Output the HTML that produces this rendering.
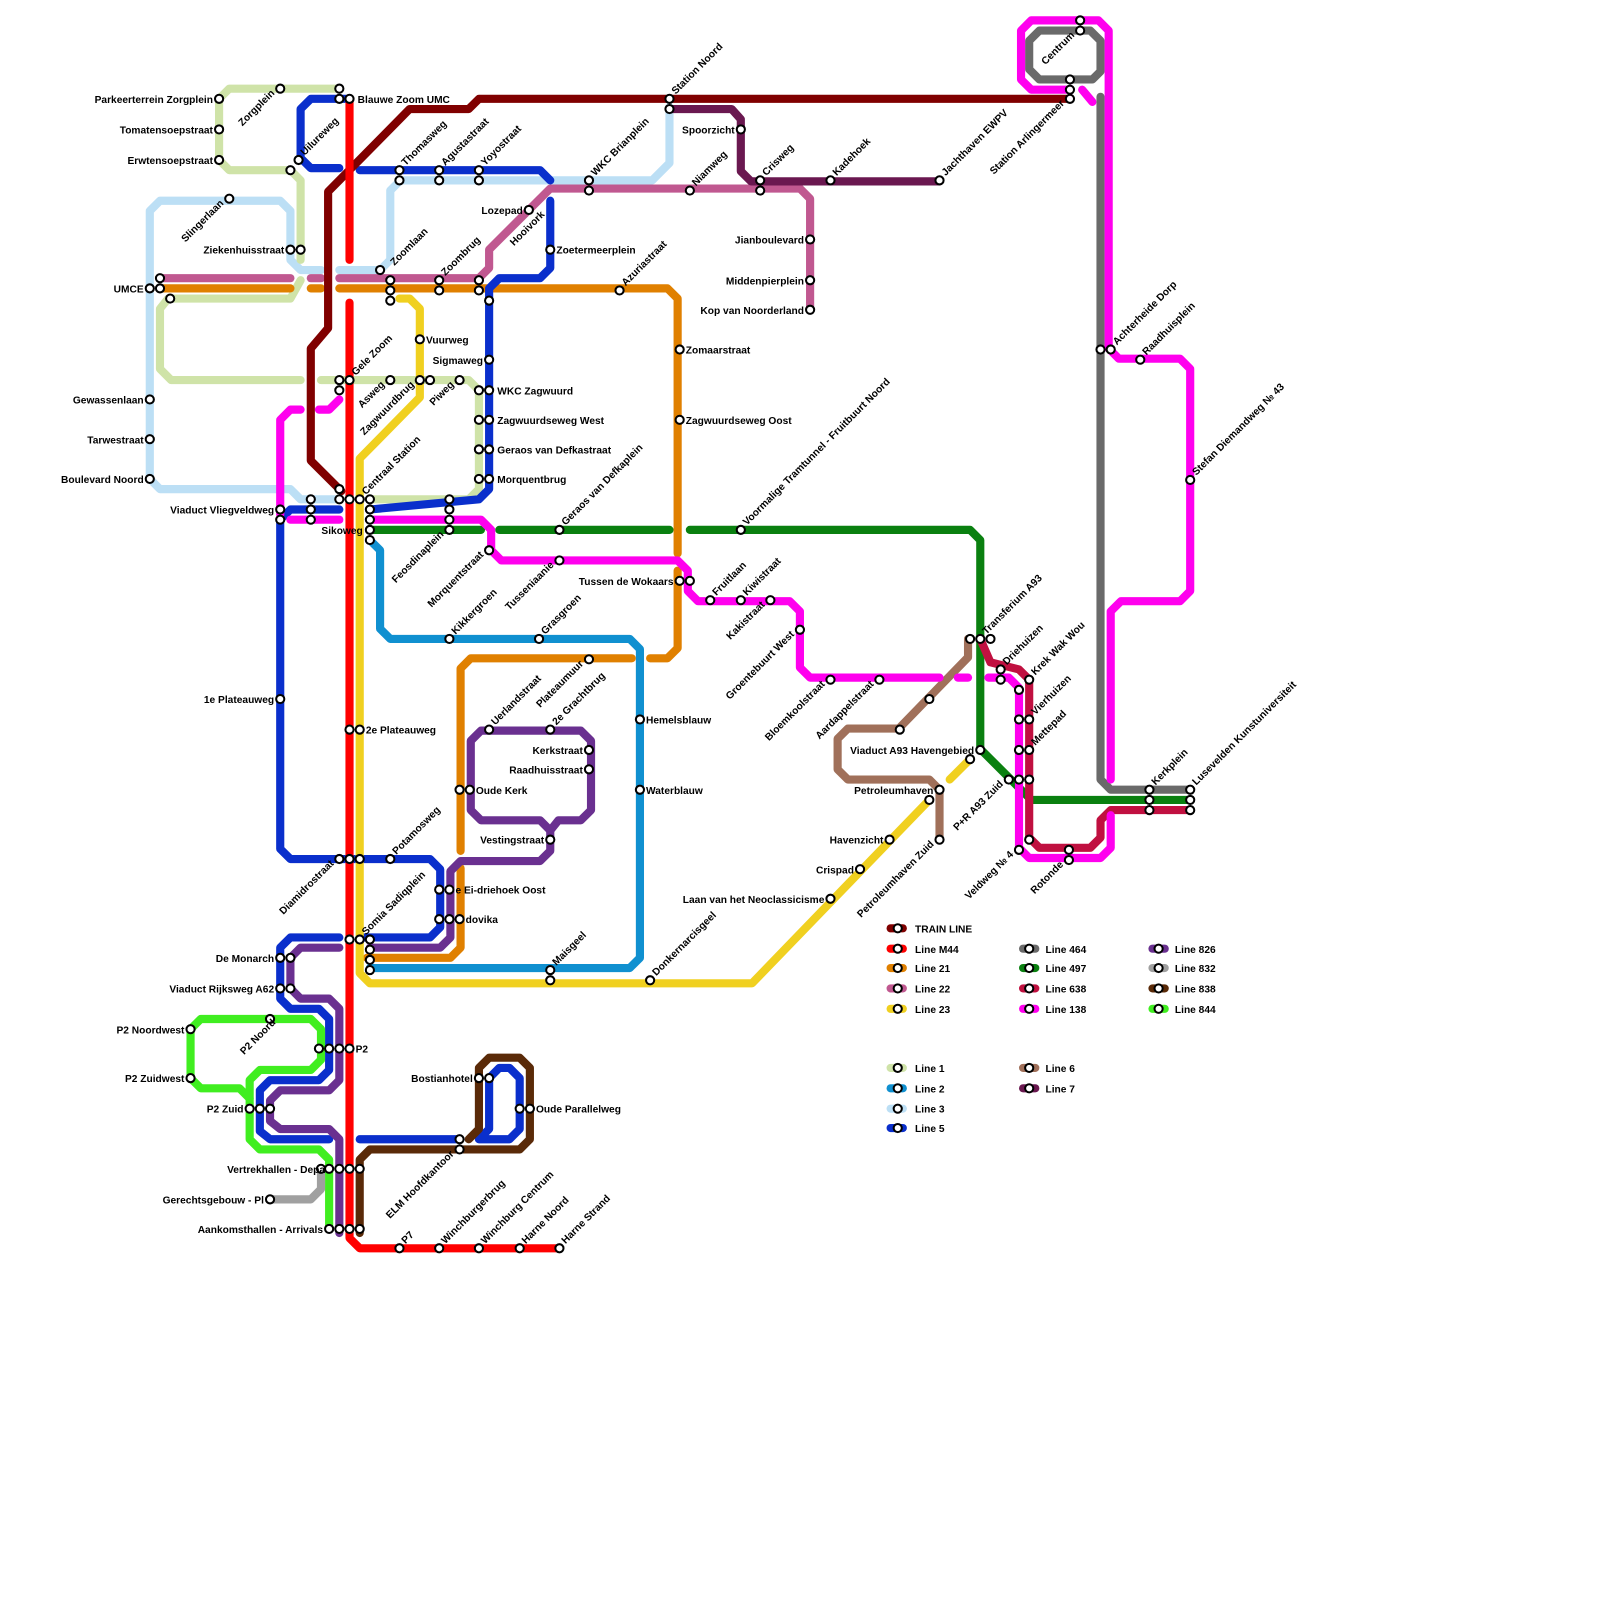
<!DOCTYPE html>
<html><head><meta charset="utf-8"><style>
html,body{margin:0;padding:0;background:#fff;width:1600px;height:1600px;overflow:hidden;}
svg{display:block;position:absolute;left:0;top:0}
text{font-family:"Liberation Sans",sans-serif;font-weight:bold;font-size:10px;fill:#000}
.l{fill:none;stroke-width:8;stroke-linejoin:round;stroke-linecap:round}
.s{fill:#fff;stroke:#000;stroke-width:2}
</style></head><body>
<svg width="1600" height="1600" viewBox="0 0 1600 1600" xmlns="http://www.w3.org/2000/svg">
<g transform="scale(1.019)">
<g class="l" stroke="#bcdff5">
<path d="M147,470 L147,207 L157,197 L275,197 L285,207 L285,255 L295,265 L315,265"/>
<path d="M333,265 L373,265 L383,255 L383,187 L393,177 L640,177 L657,160 L657,105"/>
<path d="M147,470 L157,480 L285,480 L295,490 L333,490"/>
</g>
<g class="l" stroke="#cfe3a8">
<path d="M333,87 L225,87 L215,97 L215,157 L225,167 L285,167 L295,177 L295,255"/>
<path d="M295,275 L285,293 L165,293 L157,303 L157,362 L168,373 L295,373"/>
<path d="M315,373 L460,373 L470,383 L470,480 L460,490 L363,490"/>
</g>
<path class="l" stroke="#1090d0" d="M363,530 L373,540 L373,617 L383,627 L618,627 L628,637 L628,940 L618,950 L363,950"/>
<g class="l" stroke="#e08000">
<path d="M157,283 L285,283"/><path d="M305,283 L315,283"/>
<path d="M333,283 L655,283 L665,293 L665,543"/>
<path d="M665,560 L665,636 L655,646 L638,646"/>
<path d="M620,646 L462,646 L452,656 L452,835"/>
<path d="M452,852 L452,930 L442,940 L360,940"/>
</g>
<g class="l" stroke="#c05890">
<path d="M157,273 L285,273"/><path d="M305,273 L315,273"/>
<path d="M333,273 L470,273 L480,263 L480,245 L540,185 L785,185 L795,195 L795,303"/>
</g>
<path class="l" stroke="#6a1850" d="M657,107 L718,107 L727,117 L727,168 L737,178 L922,178"/>
<g class="l" stroke="#0a2fcc">
<path d="M343,97 L305,97 L295,107 L295,155 L305,165 L333,165"/>
<path d="M353,167 L530,167 L540,177"/>
<path d="M540,197 L540,263 L530,273 L490,273 L480,283 L480,480 L470,490 L363,500"/>
<path d="M333,500 L285,500 L275,510 L275,833 L285,843 L422,843 L432,853 L432,910 L422,920 L353,920"/>
<path d="M333,920 L285,920 L275,930 L275,980 L285,990 L313,990 L323,1000 L323,1050 L313,1060 L265,1060 L255,1070 L255,1110 L265,1118 L323,1118"/>
<path d="M353,1118 L450,1118"/>
<path d="M470,1118 L480,1108 L480,1058 L490,1048 L500,1048 L510,1058 L510,1108 L500,1118 L470,1118"/>
</g>
<g class="l" stroke="#6a3090">
<path d="M462,775 L462,727 L472,717 L570,717 L580,727 L580,795 L570,805 L548,805 L540,815 L530,805 L472,805 L462,795 Z"/>
<path d="M540,815 L540,835 L530,845 L452,845 L442,855 L442,920 L432,930 L363,930"/>
<path d="M333,930 L295,930 L285,940 L285,970 L295,980 L323,980 L333,990 L333,1060 L323,1070 L275,1070 L265,1080 L265,1100 L275,1108 L323,1108 L333,1118 L333,1210"/>
</g>
<g class="l" stroke="#40ee20">
<path d="M187,1058 L187,1010 L197,1000 L305,1000 L315,1010 L315,1040 L305,1050 L255,1050 L245,1060 L245,1118 L255,1128 L313,1128 L323,1138 L323,1205"/>
<path d="M187,1058 L197,1068 L235,1068 L245,1078"/>
</g>
<path class="l" stroke="#a0a0a0" d="M265,1177 L305,1177 L315,1167 L315,1148"/>
<path class="l" stroke="#5a2a08" d="M353,1210 L353,1138 L363,1128 L510,1128 L520,1118 L520,1048 L510,1038 L480,1038 L470,1048 L470,1108 L460,1118"/>
<g class="l" stroke="#f0d020">
<path d="M392,293 L402,293 L412,303 L412,390 L353,450 L353,955 L363,965 L738,965 L912,785"/>
<path d="M932,765 L950,747"/>
</g>
<g class="l" stroke="#0a8010">
<path d="M363,520 L472,520"/><path d="M490,520 L657,520"/>
<path d="M677,520 L952,520 L962,530 L962,735 L1012,785 L1165,785"/>
</g>
<path class="l" stroke="#a0705a" d="M950,627 L950,645 L882,715 L832,715 L822,725 L822,755 L832,765 L912,765 L922,775 L922,822"/>
<g class="l" stroke="#6a6a6a">
<path d="M1080,95 L1080,765 L1090,775 L1165,775"/>
<path d="M1020,30 L1070,30 L1080,40 L1080,70 L1072,78 L1020,78 L1010,68 L1010,40 Z"/>
</g>
<path class="l" stroke="#c01040" d="M962,627 L972,650 L1000,657 L1010,667 L1010,822 L1020,832 L1070,832 L1080,822 L1080,805 L1090,795 L1165,795"/>
<g class="l" stroke="#ff00ee">
<path d="M275,505 L275,412 L285,402 L295,402"/>
<path d="M313,402 L323,402 L333,392"/>
<path d="M285,510 L333,510"/>
<path d="M363,510 L472,510 L482,520 L482,540 L492,550 L665,550 L675,560 L675,580 L685,590 L775,590 L785,600 L785,655 L795,665 L922,665"/>
<path d="M940,665 L950,665"/>
<path d="M970,665 L990,665 L1000,675 L1000,832 L1010,842 L1080,842 L1090,832 L1090,800"/>
<path d="M1090,765 L1090,600 L1100,590 L1158,590 L1168,580 L1168,362 L1158,352 L1098,352 L1088,342 L1088,30 L1078,20 L1012,20 L1002,30 L1002,78 L1012,88 L1050,88"/>
<path d="M1062,88 L1072,100"/>
</g>
<path class="l" stroke="#800000" d="M1050,97 L470,97 L460,107 L402,107 L330,180 L322,188 L322,322 L305,342 L305,452 L335,482"/>
<g class="l" stroke="#ff0000">
<path d="M343,97 L343,255"/>
<path d="M343,297 L343,1215 L353,1225 L548,1225"/>
</g>

<g class="s">
<circle cx="215" cy="97" r="4"/><circle cx="215" cy="127" r="4"/><circle cx="215" cy="157" r="4"/>
<circle cx="275" cy="87" r="4"/><circle cx="293" cy="157" r="4"/><circle cx="225" cy="195" r="4"/>
<circle cx="285" cy="167" r="4"/>
<circle cx="285" cy="245" r="4"/><circle cx="295" cy="245" r="4"/>
<circle cx="147" cy="283" r="4"/><circle cx="157" cy="283" r="4"/><circle cx="157" cy="273" r="4"/><circle cx="167" cy="293" r="4"/>
<circle cx="147" cy="392" r="4"/><circle cx="147" cy="431" r="4"/><circle cx="147" cy="470" r="4"/>
<circle cx="275" cy="500" r="4"/><circle cx="275" cy="510" r="4"/>
<circle cx="305" cy="490" r="4"/><circle cx="305" cy="500" r="4"/><circle cx="305" cy="510" r="4"/>
<circle cx="275" cy="686" r="4"/>
<circle cx="275" cy="940" r="4"/><circle cx="285" cy="940" r="4"/>
<circle cx="275" cy="970" r="4"/><circle cx="285" cy="970" r="4"/>
<circle cx="187" cy="1010" r="4"/><circle cx="265" cy="1000" r="4"/><circle cx="187" cy="1058" r="4"/>
<circle cx="245" cy="1088" r="4"/><circle cx="255" cy="1088" r="4"/><circle cx="265" cy="1088" r="4"/>
<circle cx="313" cy="1029" r="4"/><circle cx="323" cy="1029" r="4"/><circle cx="333" cy="1029" r="4"/><circle cx="343" cy="1029" r="4"/>
<circle cx="315" cy="1147" r="4"/><circle cx="323" cy="1147" r="4"/><circle cx="333" cy="1147" r="4"/><circle cx="343" cy="1147" r="4"/><circle cx="353" cy="1147" r="4"/>
<circle cx="265" cy="1177" r="4"/>
<circle cx="323" cy="1206" r="4"/><circle cx="333" cy="1206" r="4"/><circle cx="343" cy="1206" r="4"/><circle cx="353" cy="1206" r="4"/>
<circle cx="392" cy="1225" r="4"/><circle cx="431" cy="1225" r="4"/><circle cx="470" cy="1225" r="4"/><circle cx="510" cy="1225" r="4"/><circle cx="549" cy="1225" r="4"/>
<circle cx="451" cy="1118" r="4"/><circle cx="451" cy="1128" r="4"/>
<circle cx="470" cy="1058" r="4"/><circle cx="480" cy="1058" r="4"/>
<circle cx="510" cy="1088" r="4"/><circle cx="520" cy="1088" r="4"/>
<circle cx="333" cy="87" r="4"/><circle cx="333" cy="97" r="4"/><circle cx="343" cy="97" r="4"/>
<circle cx="392" cy="167" r="4"/><circle cx="392" cy="177" r="4"/>
<circle cx="431" cy="167" r="4"/><circle cx="431" cy="177" r="4"/>
<circle cx="470" cy="167" r="4"/><circle cx="470" cy="177" r="4"/>
<circle cx="373" cy="265" r="4"/><circle cx="383" cy="275" r="4"/><circle cx="383" cy="285" r="4"/><circle cx="383" cy="295" r="4"/>
<circle cx="431" cy="275" r="4"/><circle cx="431" cy="285" r="4"/>
<circle cx="470" cy="275" r="4"/><circle cx="470" cy="285" r="4"/><circle cx="480" cy="295" r="4"/>
<circle cx="519" cy="206" r="4"/><circle cx="578" cy="177" r="4"/><circle cx="578" cy="187" r="4"/>
<circle cx="540" cy="245" r="4"/><circle cx="608" cy="285" r="4"/>
<circle cx="657" cy="97" r="4"/><circle cx="657" cy="107" r="4"/>
<circle cx="727" cy="127" r="4"/><circle cx="677" cy="187" r="4"/>
<circle cx="746" cy="177" r="4"/><circle cx="746" cy="187" r="4"/>
<circle cx="815" cy="177" r="4"/><circle cx="922" cy="177" r="4"/>
<circle cx="795" cy="235" r="4"/><circle cx="795" cy="275" r="4"/><circle cx="795" cy="304" r="4"/>
<circle cx="667" cy="343" r="4"/><circle cx="667" cy="412" r="4"/>
<circle cx="727" cy="520" r="4"/>
<circle cx="333" cy="373" r="4"/><circle cx="343" cy="373" r="4"/><circle cx="333" cy="383" r="4"/>
<circle cx="383" cy="373" r="4"/><circle cx="412" cy="373" r="4"/><circle cx="422" cy="373" r="4"/><circle cx="412" cy="333" r="4"/><circle cx="451" cy="373" r="4"/>
<circle cx="480" cy="353" r="4"/>
<circle cx="470" cy="383" r="4"/><circle cx="480" cy="383" r="4"/>
<circle cx="470" cy="412" r="4"/><circle cx="480" cy="412" r="4"/>
<circle cx="470" cy="441" r="4"/><circle cx="480" cy="441" r="4"/>
<circle cx="470" cy="470" r="4"/><circle cx="480" cy="470" r="4"/>
<circle cx="333" cy="480" r="4"/><circle cx="333" cy="490" r="4"/><circle cx="343" cy="490" r="4"/><circle cx="353" cy="490" r="4"/>
<circle cx="363" cy="490" r="4"/><circle cx="363" cy="500" r="4"/><circle cx="363" cy="510" r="4"/><circle cx="363" cy="520" r="4"/><circle cx="363" cy="530" r="4"/>
<circle cx="441" cy="490" r="4"/><circle cx="441" cy="500" r="4"/><circle cx="441" cy="510" r="4"/><circle cx="441" cy="520" r="4"/>
<circle cx="480" cy="540" r="4"/><circle cx="549" cy="520" r="4"/><circle cx="549" cy="550" r="4"/>
<circle cx="441" cy="627" r="4"/><circle cx="529" cy="627" r="4"/>
<circle cx="667" cy="570" r="4"/><circle cx="677" cy="570" r="4"/>
<circle cx="697" cy="589" r="4"/><circle cx="727" cy="589" r="4"/><circle cx="756" cy="589" r="4"/>
<circle cx="785" cy="618" r="4"/><circle cx="815" cy="667" r="4"/><circle cx="863" cy="667" r="4"/>
<circle cx="578" cy="647" r="4"/>
<circle cx="480" cy="716" r="4"/><circle cx="540" cy="716" r="4"/>
<circle cx="578" cy="736" r="4"/><circle cx="578" cy="755" r="4"/>
<circle cx="451" cy="775" r="4"/><circle cx="461" cy="775" r="4"/>
<circle cx="540" cy="824" r="4"/>
<circle cx="628" cy="706" r="4"/><circle cx="628" cy="775" r="4"/>
<circle cx="343" cy="716" r="4"/><circle cx="353" cy="716" r="4"/>
<circle cx="333" cy="843" r="4"/><circle cx="343" cy="843" r="4"/><circle cx="353" cy="843" r="4"/><circle cx="383" cy="843" r="4"/>
<circle cx="431" cy="873" r="4"/><circle cx="441" cy="873" r="4"/>
<circle cx="431" cy="902" r="4"/><circle cx="441" cy="902" r="4"/><circle cx="451" cy="902" r="4"/>
<circle cx="343" cy="922" r="4"/><circle cx="353" cy="922" r="4"/><circle cx="363" cy="922" r="4"/><circle cx="363" cy="932" r="4"/><circle cx="363" cy="942" r="4"/><circle cx="363" cy="952" r="4"/>
<circle cx="540" cy="952" r="4"/><circle cx="540" cy="962" r="4"/><circle cx="638" cy="962" r="4"/>
<circle cx="815" cy="882" r="4"/><circle cx="844" cy="853" r="4"/><circle cx="873" cy="824" r="4"/>
<circle cx="922" cy="775" r="4"/><circle cx="912" cy="785" r="4"/><circle cx="922" cy="824" r="4"/>
<circle cx="962" cy="736" r="4"/><circle cx="952" cy="745" r="4"/>
<circle cx="912" cy="686" r="4"/><circle cx="883" cy="716" r="4"/>
<circle cx="952" cy="627" r="4"/><circle cx="962" cy="627" r="4"/><circle cx="972" cy="627" r="4"/>
<circle cx="982" cy="657" r="4"/><circle cx="982" cy="667" r="4"/>
<circle cx="1010" cy="667" r="4"/><circle cx="1000" cy="677" r="4"/>
<circle cx="1000" cy="706" r="4"/><circle cx="1010" cy="706" r="4"/>
<circle cx="1000" cy="736" r="4"/><circle cx="1010" cy="736" r="4"/>
<circle cx="990" cy="765" r="4"/><circle cx="1000" cy="765" r="4"/><circle cx="1010" cy="765" r="4"/>
<circle cx="1000" cy="834" r="4"/><circle cx="1010" cy="824" r="4"/>
<circle cx="1049" cy="834" r="4"/><circle cx="1049" cy="844" r="4"/>
<circle cx="1128" cy="775" r="4"/><circle cx="1128" cy="785" r="4"/><circle cx="1128" cy="795" r="4"/>
<circle cx="1168" cy="775" r="4"/><circle cx="1168" cy="785" r="4"/><circle cx="1168" cy="795" r="4"/>
<circle cx="1080" cy="343" r="4"/><circle cx="1090" cy="343" r="4"/><circle cx="1119" cy="353" r="4"/>
<circle cx="1168" cy="471" r="4"/>
<circle cx="1060" cy="20" r="4"/><circle cx="1060" cy="30" r="4"/>
<circle cx="1050" cy="78" r="4"/><circle cx="1050" cy="88" r="4"/><circle cx="1050" cy="97" r="4"/>
</g>

<g text-anchor="end">
<text x="209" y="101">Parkeerterrein Zorgplein</text>
<text x="209" y="131">Tomatensoepstraat</text>
<text x="209" y="161">Erwtensoepstraat</text>
<text x="279" y="249">Ziekenhuisstraat</text>
<text x="141" y="287">UMCE</text>
<text x="141" y="396">Gewassenlaan</text>
<text x="141" y="435">Tarwestraat</text>
<text x="141" y="474">Boulevard Noord</text>
<text x="269" y="504">Viaduct Vliegveldweg</text>
<text x="356" y="524">Sikoweg</text>
<text x="269" y="690">1e Plateauweg</text>
<text x="269" y="944">De Monarch</text>
<text x="269" y="974">Viaduct Rijksweg A62</text>
<text x="181" y="1014">P2 Noordwest</text>
<text x="181" y="1062">P2 Zuidwest</text>
<text x="239" y="1092">P2 Zuid</text>
<text x="319" y="1151">Vertrekhallen - Depa</text>
<text x="259" y="1181">Gerechtsgebouw - Pl</text>
<text x="317" y="1210">Aankomsthallen - Arrivals</text>
<text x="464" y="1062">Bostianhotel</text>
<text x="513" y="210">Lozepad</text>
<text x="721" y="131">Spoorzicht</text>
<text x="789" y="239">Jianboulevard</text>
<text x="789" y="279">Middenpierplein</text>
<text x="789" y="308">Kop van Noorderland</text>
<text x="474" y="357">Sigmaweg</text>
<text x="661" y="574">Tussen de Wokaars</text>
<text x="572" y="740">Kerkstraat</text>
<text x="572" y="759">Raadhuisstraat</text>
<text x="534" y="828">Vestingstraat</text>
<text x="809" y="886">Laan van het Neoclassicisme</text>
<text x="838" y="857">Crispad</text>
<text x="867" y="828">Havenzicht</text>
<text x="916" y="779">Petroleumhaven</text>
<text x="956" y="740">Viaduct A93 Havengebied</text>
</g>
<g>
<text x="351" y="101">Blauwe Zoom UMC</text>
<text x="418" y="337">Vuurweg</text>
<text x="488" y="387">WKC Zagwuurd</text>
<text x="488" y="416">Zagwuurdseweg West</text>
<text x="488" y="445">Geraos van Defkastraat</text>
<text x="488" y="474">Morquentbrug</text>
<text x="546" y="249">Zoetermeerplein</text>
<text x="673" y="347">Zomaarstraat</text>
<text x="673" y="416">Zagwuurdseweg Oost</text>
<text x="634" y="710">Hemelsblauw</text>
<text x="634" y="779">Waterblauw</text>
<text x="467" y="779">Oude Kerk</text>
<text x="359" y="720">2e Plateauweg</text>
<text x="447" y="877">e Ei-driehoek Oost</text>
<text x="457" y="906">dovika</text>
<text x="349" y="1033">P2</text>
<text x="526" y="1092">Oude Parallelweg</text>
</g>
<g>
<text transform="translate(299,153) rotate(-45)">Uilureweg</text>
<text transform="translate(398,163) rotate(-45)">Thomasweg</text>
<text transform="translate(437,163) rotate(-45)">Agustastraat</text>
<text transform="translate(476,163) rotate(-45)">Yoyostraat</text>
<text transform="translate(387,261) rotate(-45)">Zoomlaan</text>
<text transform="translate(437,271) rotate(-45)">Zoombrug</text>
<text transform="translate(584,173) rotate(-45)">WKC Brianplein</text>
<text transform="translate(614,281) rotate(-45)">Azuriastraat</text>
<text transform="translate(663,93) rotate(-45)">Station Noord</text>
<text transform="translate(683,183) rotate(-45)">Niamweg</text>
<text transform="translate(752,173) rotate(-45)">Crisweg</text>
<text transform="translate(821,173) rotate(-45)">Kadehoek</text>
<text transform="translate(928,173) rotate(-45)">Jachthaven EWPV</text>
<text transform="translate(733,516) rotate(-45)">Voormalige Tramtunnel - Fruitbuurt Noord</text>
<text transform="translate(349,369) rotate(-45)">Gele Zoom</text>
<text transform="translate(359,486) rotate(-45)">Centraal Station</text>
<text transform="translate(555,516) rotate(-45)">Geraos van Defkaplein</text>
<text transform="translate(447,623) rotate(-45)">Kikkergroen</text>
<text transform="translate(535,623) rotate(-45)">Grasgroen</text>
<text transform="translate(703,585) rotate(-45)">Fruitlaan</text>
<text transform="translate(733,585) rotate(-45)">Kiwistraat</text>
<text transform="translate(486,712) rotate(-45)">Uerlandstraat</text>
<text transform="translate(546,712) rotate(-45)">2e Grachtbrug</text>
<text transform="translate(389,839) rotate(-45)">Potamosweg</text>
<text transform="translate(359,918) rotate(-45)">Somia Sadiqplein</text>
<text transform="translate(546,948) rotate(-45)">Maisgeel</text>
<text transform="translate(644,958) rotate(-45)">Donkernarcisgeel</text>
<text transform="translate(398,1221) rotate(-45)">P7</text>
<text transform="translate(437,1221) rotate(-45)">Winchburgerbrug</text>
<text transform="translate(476,1221) rotate(-45)">Winchburg Centrum</text>
<text transform="translate(516,1221) rotate(-45)">Harne Noord</text>
<text transform="translate(555,1221) rotate(-45)">Harne Strand</text>
<text transform="translate(968,623) rotate(-45)">Transferium A93</text>
<text transform="translate(988,653) rotate(-45)">Driehuizen</text>
<text transform="translate(1016,663) rotate(-45)">Krek Wak Wou</text>
<text transform="translate(1016,702) rotate(-45)">Vierhuizen</text>
<text transform="translate(1016,732) rotate(-45)">Mettepad</text>
<text transform="translate(1134,771) rotate(-45)">Kerkplein</text>
<text transform="translate(1174,771) rotate(-45)">Lusevelden Kunstuniversiteit</text>
<text transform="translate(1096,339) rotate(-45)">Achterheide Dorp</text>
<text transform="translate(1125,349) rotate(-45)">Raadhuisplein</text>
<text transform="translate(1174,467) rotate(-45)">Stefan Diemandweg № 43</text>
<text transform="translate(271,1004) rotate(-45)" text-anchor="end">P2 Noord</text>
</g>
<g text-anchor="end">
<text transform="translate(270,92) rotate(-45)">Zorgplein</text>
<text transform="translate(220,200) rotate(-45)">Slingerlaan</text>
<text transform="translate(378,378) rotate(-45)">Asweg</text>
<text transform="translate(407,378) rotate(-45)">Zagwuurdbrug</text>
<text transform="translate(446,378) rotate(-45)">Piweg</text>
<text transform="translate(436,525) rotate(-45)">Feosdinaplein</text>
<text transform="translate(475,545) rotate(-45)">Morquentstraat</text>
<text transform="translate(544,555) rotate(-45)">Tusseniaanie</text>
<text transform="translate(573,652) rotate(-45)">Plateaumuur</text>
<text transform="translate(535,211) rotate(-45)">Hooivork</text>
<text transform="translate(751,594) rotate(-45)">Kakistraat</text>
<text transform="translate(780,623) rotate(-45)">Groentebuurt West</text>
<text transform="translate(810,672) rotate(-45)">Bloemkoolstraat</text>
<text transform="translate(858,672) rotate(-45)">Aardappelstraat</text>
<text transform="translate(328,848) rotate(-45)">Diamidrostraat</text>
<text transform="translate(446,1133) rotate(-45)">ELM Hoofdkantoor</text>
<text transform="translate(917,829) rotate(-45)">Petroleumhaven Zuid</text>
<text transform="translate(985,770) rotate(-45)">P+R A93 Zuid</text>
<text transform="translate(995,839) rotate(-45)">Veldweg № 4</text>
<text transform="translate(1044,849) rotate(-45)">Rotonde</text>
<text transform="translate(1055,35) rotate(-45)">Centrum</text>
<text transform="translate(1045,102) rotate(-45)">Station Arlingermeer</text>
</g>

<g>
<g stroke-width="8" stroke-linecap="round">
<line x1="874" y1="911" x2="886" y2="911" stroke="#800000"/>
<line x1="874" y1="931" x2="886" y2="931" stroke="#ff0000"/>
<line x1="874" y1="950" x2="886" y2="950" stroke="#e08000"/>
<line x1="874" y1="970" x2="886" y2="970" stroke="#c05890"/>
<line x1="874" y1="990" x2="886" y2="990" stroke="#f0d020"/>
<line x1="874" y1="1048" x2="886" y2="1048" stroke="#cfe3a8"/>
<line x1="874" y1="1068" x2="886" y2="1068" stroke="#1090d0"/>
<line x1="874" y1="1088" x2="886" y2="1088" stroke="#bcdff5"/>
<line x1="874" y1="1107" x2="886" y2="1107" stroke="#0a2fcc"/>
<line x1="1004" y1="931" x2="1016" y2="931" stroke="#6a6a6a"/>
<line x1="1004" y1="950" x2="1016" y2="950" stroke="#0a8010"/>
<line x1="1004" y1="970" x2="1016" y2="970" stroke="#c01040"/>
<line x1="1004" y1="990" x2="1016" y2="990" stroke="#ff00ee"/>
<line x1="1004" y1="1048" x2="1016" y2="1048" stroke="#a0705a"/>
<line x1="1004" y1="1068" x2="1016" y2="1068" stroke="#6a1850"/>
<line x1="1131" y1="931" x2="1143" y2="931" stroke="#6a3090"/>
<line x1="1131" y1="950" x2="1143" y2="950" stroke="#a0a0a0"/>
<line x1="1131" y1="970" x2="1143" y2="970" stroke="#5a2a08"/>
<line x1="1131" y1="990" x2="1143" y2="990" stroke="#40ee20"/>
</g>
<g class="s">
<circle cx="881" cy="911" r="4"/><circle cx="881" cy="931" r="4"/><circle cx="881" cy="950" r="4"/><circle cx="881" cy="970" r="4"/><circle cx="881" cy="990" r="4"/>
<circle cx="881" cy="1048" r="4"/><circle cx="881" cy="1068" r="4"/><circle cx="881" cy="1088" r="4"/><circle cx="881" cy="1107" r="4"/>
<circle cx="1010" cy="931" r="4"/><circle cx="1010" cy="950" r="4"/><circle cx="1010" cy="970" r="4"/><circle cx="1010" cy="990" r="4"/>
<circle cx="1010" cy="1048" r="4"/><circle cx="1010" cy="1068" r="4"/>
<circle cx="1137" cy="931" r="4"/><circle cx="1137" cy="950" r="4"/><circle cx="1137" cy="970" r="4"/><circle cx="1137" cy="990" r="4"/>
</g>
<text x="898" y="915">TRAIN LINE</text>
<text x="898" y="935">Line M44</text>
<text x="898" y="954">Line 21</text>
<text x="898" y="974">Line 22</text>
<text x="898" y="994">Line 23</text>
<text x="898" y="1052">Line 1</text>
<text x="898" y="1072">Line 2</text>
<text x="898" y="1092">Line 3</text>
<text x="898" y="1111">Line 5</text>
<text x="1026" y="935">Line 464</text>
<text x="1026" y="954">Line 497</text>
<text x="1026" y="974">Line 638</text>
<text x="1026" y="994">Line 138</text>
<text x="1026" y="1052">Line 6</text>
<text x="1026" y="1072">Line 7</text>
<text x="1153" y="935">Line 826</text>
<text x="1153" y="954">Line 832</text>
<text x="1153" y="974">Line 838</text>
<text x="1153" y="994">Line 844</text>
</g>
</g>
</svg>
</body></html>
